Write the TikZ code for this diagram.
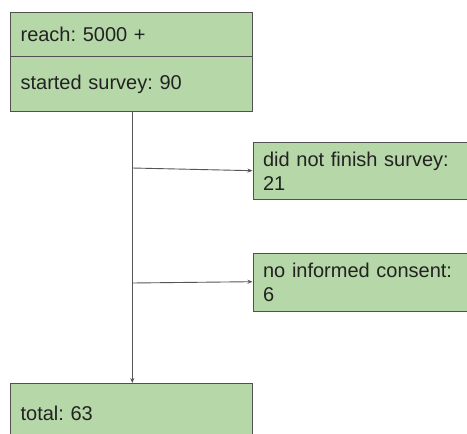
\documentclass[tikz,border=0pt]{standalone}
\usepackage{fontspec}
\setmainfont{Liberation Sans}
\usetikzlibrary{arrows.meta}
\definecolor{boxfill}{HTML}{B6D7A8}
\definecolor{boxline}{HTML}{505050}
\definecolor{conn}{HTML}{555555}
\definecolor{txt}{HTML}{222222}
\tikzset{
  box/.style={draw=boxline, fill=boxfill, line width=1.2pt, rectangle,
    anchor=north west, inner xsep=10pt, inner ysep=0pt, align=left,
    text=txt, font=\frenchspacing\fontsize{20}{24}\selectfont},
  conn/.style={draw=conn, line width=0.9pt, -{Stealth[length=5pt,width=4pt]}}
}
\begin{document}
\frenchspacing
\begin{tikzpicture}[x=1pt,y=-1pt]
\useasboundingbox (0,0) rectangle (467,434);
\clip (0,0) rectangle (467,434);
\fill[white] (0,0) rectangle (467,434);
\node[box, minimum width=242pt, minimum height=43.5pt, text width=222pt] (reach) at (10,12) {reach: 5000 +};
\node[box, minimum width=242pt, minimum height=55.5pt, text width=222pt] (started) at (10,55.5) {started survey: 90};
\node[box, minimum width=240pt, minimum height=57.5pt, text width=220pt] (dnf) at (252.5,141.5) {did not finish survey:\\21};
\node[box, minimum width=240pt, minimum height=57.5pt, text width=220pt] (noc) at (252.5,253) {no informed consent:\\6};
\node[box, minimum width=242pt, minimum height=60pt, text width=222pt] (total) at (10,383) {total: 63};
\coordinate (top) at (132.3,111);
\coordinate (b1) at (132.3,168);
\coordinate (b2) at (132.3,283);
\draw[conn] (top) -- (total.north -| top);
\draw[conn] (b1) -- (dnf.west |- 0,170.7);
\draw[conn] (b2) -- (noc.west |- 0,281.7);
\end{tikzpicture}
\end{document}
